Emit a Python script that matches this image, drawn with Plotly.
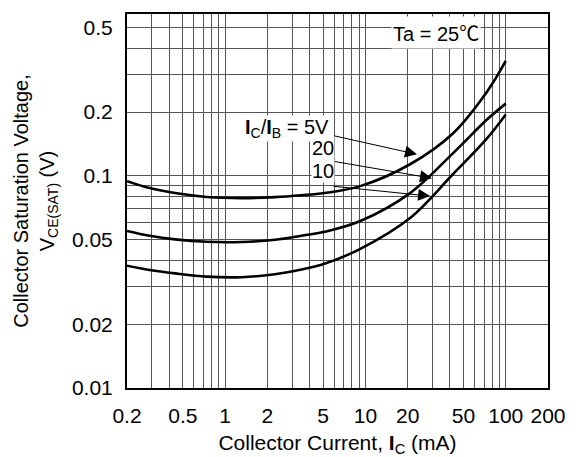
import math
import plotly.graph_objects as go

# ---- data ----
ic_ma = [0.2, 0.29, 0.44, 0.74, 1.31, 2.27, 3.5, 5.1, 9.2, 20.8, 42, 73.5, 100]
vce_5 = [0.0944, 0.0876, 0.0830, 0.0796, 0.0786, 0.0794, 0.0810, 0.0830, 0.0895, 0.1135, 0.1586, 0.2495, 0.3486]
vce_20 = [0.0550, 0.0522, 0.0502, 0.0489, 0.0488, 0.0500, 0.0522, 0.0545, 0.0613, 0.0830, 0.1278, 0.1844, 0.2192]
vce_10 = [0.0377, 0.0360, 0.0347, 0.0335, 0.0333, 0.0344, 0.0362, 0.0385, 0.0453, 0.0633, 0.1018, 0.1502, 0.1947]

x_grid = [0.2, 0.3, 0.4, 0.5, 0.6, 0.7, 0.8, 0.9, 1, 2, 3, 4, 5, 6, 7, 8, 9,
          10, 20, 30, 40, 50, 60, 70, 80, 90, 100, 200]
x_labels = {0.2: "0.2", 0.5: "0.5", 1: "1", 2: "2", 5: "5", 10: "10",
            20: "20", 50: "50", 100: "100", 200: "200"}
y_grid = [0.01, 0.02, 0.03, 0.04, 0.05, 0.06, 0.07, 0.08, 0.09, 0.1, 0.2, 0.3, 0.4, 0.5]
y_labels = {0.01: "0.01", 0.02: "0.02", 0.05: "0.05", 0.1: "0.1", 0.2: "0.2", 0.5: "0.5"}

FONT = "Liberation Sans, Arial, sans-serif"
L = math.log10

fig = go.Figure()
for yv in (vce_5, vce_20, vce_10):
    fig.add_trace(go.Scatter(x=ic_ma, y=yv, mode="lines",
                             line=dict(color="black", width=2.6, shape="spline", smoothing=1.0),
                             showlegend=False, hoverinfo="skip"))

# page body has an 8px margin, so the figure is sized/margined to compensate
fig.update_layout(
    width=579, height=449,
    margin=dict(l=119, r=39, t=4, b=69),
    paper_bgcolor="white", plot_bgcolor="white",
    font=dict(family=FONT, size=21, color="black"),
    xaxis=dict(type="log", range=[L(0.2), L(200)],
               tickvals=x_grid, ticktext=[x_labels.get(v, "") for v in x_grid],
               showgrid=True, gridcolor="#555555", gridwidth=1,
               showline=True, linecolor="black", linewidth=2, mirror=True,
               ticks="", ticklabelstandoff=8, zeroline=False,
               tickfont=dict(size=21),
               title=dict(text="Collector Current, <b>I</b><sub>C</sub> (mA)",
                          standoff=9, font=dict(size=21))),
    yaxis=dict(type="log", range=[-2, L(0.58)],
               tickvals=y_grid, ticktext=[y_labels.get(v, "") for v in y_grid],
               showgrid=True, gridcolor="#555555", gridwidth=1,
               showline=True, linecolor="black", linewidth=2, mirror=True,
               ticks="", ticklabelstandoff=8, zeroline=False,
               tickfont=dict(size=21),
               title=dict(text="Collector Saturation Voltage,<br>V<sub>CE(SAT)</sub> (V)",
                          standoff=12, font=dict(size=20))),
)

# arrows (tip on curve, tail near label)
arrows = [((23.3, 0.1264), (5.87, 0.155)),
          ((29.8, 0.0975), (5.87, 0.1173)),
          ((28.9, 0.0803), (5.78, 0.0895))]
for (tx, ty), (ax, ay) in arrows:
    fig.add_annotation(x=L(tx), y=L(ty), ax=L(ax), ay=L(ay), axref="x", ayref="y",
                       xref="x", yref="y", text="", showarrow=True,
                       arrowhead=2, arrowsize=2.4, arrowwidth=1, arrowcolor="black")

labels = [("<b>I</b><sub>C</sub>/<b>I</b><sub>B</sub> = 5V", 5.59, 0.1674),
          ("20", 6.07, 0.1349),
          ("10", 6.07, 0.1052)]
for txt, x, y in labels:
    fig.add_annotation(x=L(x), y=L(y), xref="x", yref="y", text=txt, showarrow=False,
                       xanchor="right", yanchor="middle", bgcolor="white",
                       borderpad=0, font=dict(size=20))

fig.add_annotation(x=L(31.8), y=L(0.477), xref="x", yref="y",
                   text="Ta = 25<span style=\"font-family:'Noto Sans CJK SC'\">℃</span>",
                   showarrow=False, xanchor="center", yanchor="middle",
                   bgcolor="white", borderpad=1, font=dict(size=20))

fig.write_html("out.html")
